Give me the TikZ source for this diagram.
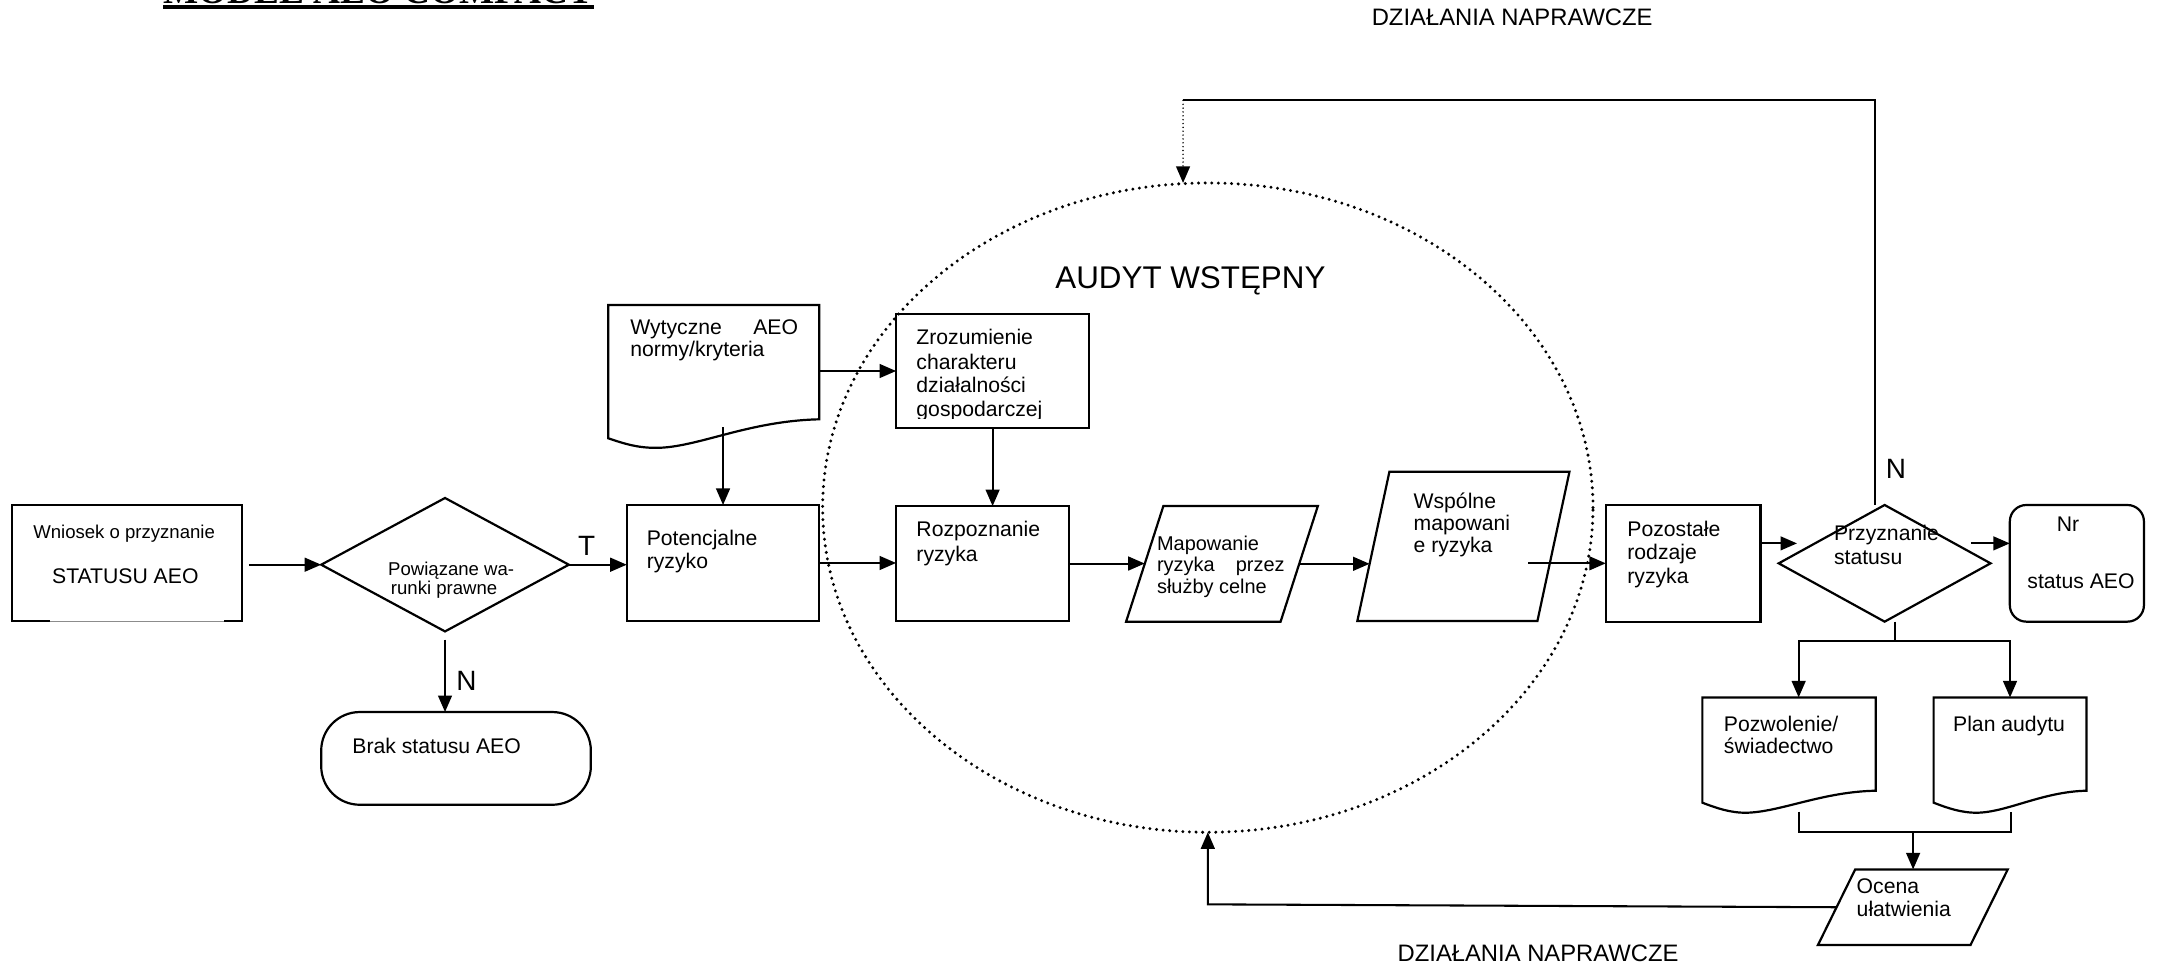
\documentclass[tikz,border=0pt]{standalone}
\usepackage{fontspec}
\setmainfont{Liberation Sans}
\newfontfamily\titlefont{Liberation Serif}
\usetikzlibrary{arrows.meta,shapes.geometric,calc}
\newcommand\fsz[1]{\fontsize{#1}{#1}\selectfont}
\begin{document}
\begin{tikzpicture}[x=1pt,y=-1pt,
  box/.style={draw, line width=1.6pt, inner sep=0pt, outer sep=0pt},
  ref/.style={draw=none, inner sep=0pt, outer sep=0pt},
  conn/.style={line width=1.5pt},
  arr/.style={line width=1.5pt, -{Triangle[length=12pt,width=10pt]}},
  dotarr/.style={line width=1.2pt, dash pattern=on 0pt off 2.8pt, line cap=round, -{Triangle[length=12pt,width=10pt]}},
  dots/.style={line width=2.4pt, dash pattern=on 0pt off 4.8pt, line cap=round},
  lbl/.style={anchor=base west, inner sep=0pt, font=\fsz{15.4}},
  lblr/.style={anchor=base east, inner sep=0pt, font=\fsz{15.4}},
  lbls/.style={anchor=base west, inner sep=0pt, font=\fsz{13.5}},
  lblm/.style={anchor=base west, inner sep=0pt, font=\fsz{14.5}},
  lblmr/.style={anchor=base east, inner sep=0pt, font=\fsz{14.5}},
  big/.style={anchor=base west, inner sep=0pt, font=\fsz{20.3}},
  shp/.style={line width=1.6pt},
]
\useasboundingbox (0,0) rectangle (1568,703.7);

% title (cut off at the top edge, as in the reference)
\node[anchor=base west, inner sep=0pt, font=\titlefont\bfseries\fsz{27.1}] (title) at (118.5,2.2) {MODEL AEO COMPACT};
\draw[line width=3pt] ($(title.base west)+(0,3)$) -- ($(title.base east)+(0,3)$);

% headings
\node[anchor=base west, inner sep=0pt, font=\fsz{17.3}] (dztop) at (997,18.2) {DZIAŁANIA NAPRAWCZE};
\node[anchor=base west, inner sep=0pt, font=\fsz{17.3}] (dzbot) at (1015.8,699) {DZIAŁANIA NAPRAWCZE};
\node[anchor=base west, inner sep=0pt, font=\fsz{22.8}] (aud) at (767,209.6) {AUDYT WSTĘPNY};

% dotted audit ellipse
\node[ellipse, draw, dots, inner sep=0pt, outer sep=0pt, minimum width=560pt, minimum height=472pt] (audit) at (878,369) {};

% Wniosek
\node[ref, minimum width=167pt, minimum height=84.5pt] (wn) at (92.5,409.25) {};
\draw[shp] (36,451.5) -| (wn.north west) -| (wn.south east) -- (163,451.5);
\draw[line width=0.6pt, black!45] (36,451.5) -- (163,451.5);
\node[lbls] (wn1) at (24,391.3) {Wniosek o przyznanie};
\node[lbl] (wn2) at (37.7,424) {STATUSU AEO};

% Powiazane diamond
\node[diamond, box, minimum width=180pt, minimum height=97pt] (pw) at (323.5,410.5) {};
\node[lbls] (pw1) at (282,418) {Powiązane wa-};
\node[lbls] (pw2) at (284,432.5) {runki prawne};

% Brak statusu
\node[box, rounded corners=28pt, minimum width=196pt, minimum height=67.4pt] (brak) at (331.5,551.3) {};
\node[lbl] (brak1) at (256,547.7) {Brak statusu AEO};

% Wytyczne document
\node[ref, anchor=north west, minimum width=153.4pt, minimum height=96pt] (wyt) at (442.2,221.7) {};
\draw[shp] (wyt.north west) -- (wyt.north east) -- (595.6,304.8)
  .. controls (545,306) and (510,324) .. (480,325.5)
  .. controls (465,326) and (455,323) .. (442.2,318.6) -- cycle;
\node[lbl] (wyt1) at (458,243) {Wytyczne};
\node[lblr] (wyt2) at (580.3,243) {AEO};
\node[lbl] (wyt3) at (458,259.3) {normy/kryteria};

% Zrozumienie
\node[box, minimum width=140.3pt, minimum height=83.1pt] (zroz) at (721.55,269.85) {};
\node[lbl] (z1) at (666,250.3) {Zrozumienie};
\node[lbl] (z2) at (666,268.5) {charakteru};
\node[lbl] (z3) at (666,285.5) {działalności};
\begin{scope}
\clip (652,290) rectangle (791,304.4);
\node[lbl] (z4) at (666,302.9) {gospodarczej};
\end{scope}

% Potencjalne
\node[box, minimum width=140pt, minimum height=84.3pt] (pot) at (525.6,409.25) {};
\node[lbl] (pot1) at (470,396.2) {Potencjalne};
\node[lbl] (pot2) at (470,413) {ryzyko};

% Rozpoznanie
\node[box, minimum width=125.7pt, minimum height=83.5pt] (rozp) at (714.25,409.65) {};
\node[lbl] (r1) at (666,390.2) {Rozpoznanie};
\node[lbl] (r2) at (666,408.3) {ryzyka};

% Mapowanie parallelogram
\node[ref, minimum width=112.3pt, minimum height=84.1pt] (map) at (888.3,409.85) {};
\draw[shp] ($(map.north west)+(13.55,0)$) -- ($(map.north east)+(13.55,0)$)
  -- ($(map.south east)+(-13.55,0)$) -- ($(map.south west)+(-13.55,0)$) -- cycle;
\node[lblm] (m1) at (840.9,400) {Mapowanie};
\node[lblm] (m2) at (840.9,415.75) {ryzyka};
\node[lblmr] (m3) at (934,415.75) {przez};
\node[lblm] (m4) at (840.9,431.4) {służby celne};

% Wspolne parallelogram
\node[ref, minimum width=130.9pt, minimum height=108.5pt] (wsp) at (1063.8,397.15) {};
\draw[shp] ($(wsp.north west)+(11.65,0)$) -- ($(wsp.north east)+(11.65,0)$)
  -- ($(wsp.south east)+(-11.65,0)$) -- ($(wsp.south west)+(-11.65,0)$) -- cycle;
\node[lbl] (w1) at (1027.4,369.5) {Wspólne};
\node[lbl] (w2) at (1027.4,385.7) {mapowani};
\node[lbl] (w3) at (1027.4,401.9) {e ryzyka};

% Pozostale
\node[box, minimum width=112.4pt, minimum height=84.8pt] (poz) at (1223.5,409.5) {};
\node[lbl] (pz1) at (1182.8,390) {Pozostałe};
\node[lbl] (pz2) at (1182.8,407) {rodzaje};
\node[lbl] (pz3) at (1182.8,424) {ryzyka};

% Przyznanie diamond
\node[diamond, box, minimum width=154pt, minimum height=84.8pt] (prz) at (1370,409.5) {};
\node[lbl] (p1) at (1333,392.6) {Przyznanie};
\node[lbl] (p2) at (1333,410.7) {statusu};

% Nr status AEO
\node[box, rounded corners=12pt, minimum width=97.5pt, minimum height=84.8pt] (nr) at (1509.75,409.5) {};
\node[lbl] (nr1) at (1495,386.5) {Nr};
\node[lbl] (nr2) at (1473.6,427.7) {status AEO};

% Pozwolenie document
\node[ref, anchor=north west, minimum width=126.1pt, minimum height=76.5pt] (pozw) at (1237.5,507) {};
\draw[shp] (pozw.north west) -- (pozw.north east) -- (1363.6,574.8)
  .. controls (1325,575.5) and (1295,590) .. (1270,590.8)
  .. controls (1258,591) and (1248,587.5) .. (1237.5,583.5) -- cycle;
\node[lbl] (pw3) at (1253,532) {Pozwolenie/};
\node[lbl] (pw4) at (1253,547.6) {świadectwo};

% Plan audytu document
\node[ref, anchor=north west, minimum width=111.1pt, minimum height=76.5pt] (plan) at (1405.6,507) {};
\draw[shp] (plan.north west) -- (plan.north east) -- (1516.7,574.8)
  .. controls (1485,575.5) and (1460,590) .. (1438,590.8)
  .. controls (1426,591) and (1416,587.5) .. (1405.6,583.5) -- cycle;
\node[lbl] (pl1) at (1419.6,532) {Plan audytu};

% Ocena parallelogram
\node[ref, minimum width=110.9pt, minimum height=55pt] (ocena) at (1390.5,659.5) {};
\draw[shp] ($(ocena.north west)+(13.55,0)$) -- ($(ocena.north east)+(13.55,0)$)
  -- ($(ocena.south east)+(-13.55,0)$) -- ($(ocena.south west)+(-13.55,0)$) -- cycle;
\node[lbl] (o1) at (1349.5,649.4) {Ocena};
\node[lbl] (o2) at (1349.5,666.4) {ułatwienia};

% labels T / N
\node[big] (tl) at (420,403.5) {T};
\node[big] (nl) at (331.6,501.6) {N};
\node[big] (nt) at (1370.6,347.6) {N};

% coordinates for free ends
\coordinate (wspin) at (995.6,409.85);
\coordinate (wspout) at (1111,409.5);
\coordinate (przin) at (1306.3,395);
\coordinate (przout) at (1432.7,395);
\coordinate (topR) at (1363,73);
\coordinate (topL) at (860,73);
\coordinate (br) at (1377.3,465.7);
\coordinate (pzin) at (1307.5,507);
\coordinate (jl) at (1307.5,590);
\coordinate (jr) at (1461.6,590);
\coordinate (jbr) at (1461.6,604.6);
\coordinate (jc) at (1390.7,604.6);
\coordinate (fb) at (878,657.4);

% connectors
\draw[arr, shorten <=5pt] (wn.east |- pw.west) -- (pw.west);
\draw[arr] (pw.east) -- (pw.east -| pot.west);
\draw[arr, shorten <=6pt] (pw.south) -- (pw.south |- brak.north);
\draw[arr] (wyt.east) -- (wyt.east -| zroz.west);
\draw[arr] ($(wyt.south -| pot.north)+(0,-7)$) -- (pot.north);
\draw[arr] (zroz.south) -- (zroz.south |- rozp.north);
\draw[arr] (pot.east) -- (pot.east -| rozp.west);
\draw[arr] (rozp.east) -- (rozp.east -| map.west);
\draw[arr] (map.east) -- (wspin);
\draw[arr] (wspout) -- (poz.west);
\draw[arr] (poz.east |- przin) -- (przin);
\draw[arr] (przout) -- (przout -| nr.west);
\draw[conn] ([xshift=-7pt]prz.north) -- (topR) -- (topL);
\draw[dotarr] (topL) -- (topL |- audit.north);
\draw[conn] ([xshift=7.3pt]prz.south) -- (br);
\draw[arr] (br) -| (pzin);
\draw[arr] (br) -| (plan.north);
\draw[conn] (jl) |- (jbr) -- (jr);
\draw[arr] (jc) -- (jc |- ocena.north);
\draw[arr] (ocena.west) -- (fb) -- (audit.south);
\end{tikzpicture}
\end{document}
